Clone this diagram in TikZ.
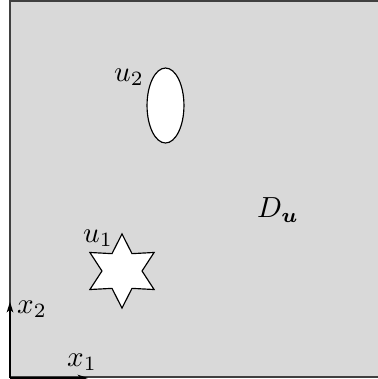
\documentclass[tikz,border=0pt]{standalone}
\usepackage{amsmath,bm}
\usetikzlibrary{arrows.meta,shapes.geometric}
\tikzset{
  region/.style={fill=black!15, draw=black!75, line width=0.6pt},
  hole/.style={draw, fill=white, line width=0.4pt, inner sep=0pt},
  axisarrow/.style={-{Stealth[length=3.6pt,width=2.3pt,inset=1pt]}, line width=0.4pt},
  lbl/.style={inner sep=0pt}
}
\begin{document}
\begin{tikzpicture}[x=0.344pt, y=-0.344pt]
  \useasboundingbox (0,0) rectangle (378,379);
  \clip (0,0) rectangle (378,379);
  % domain
  \draw[region] (10,1) rectangle (400,377);
  % obstacles
  \node[hole, ellipse, minimum width=12.7pt, minimum height=25.8pt] (ellip) at (165.5,105.5) {};
  \node[hole, star, star points=6, star point ratio=1.85, minimum size=25.5pt] (hexstar) at (122,271) {};
  \node[lbl] (lu2) at (129,77) {$u_2$};
  \node[lbl] (lu1) at (98,238) {$u_1$};
  \node[lbl] (ldom) at (278,210) {$D_{\bm u}$};
  % axes
  \coordinate (orig) at (10,378);
  \coordinate (e2) at (10,302);
  \coordinate (e1) at (88,378);
  \draw[axisarrow] (orig) -- (e2);
  \draw[axisarrow] (orig) -- (e1);
  \node[lbl] (lx2) at (32,309) {$x_2$};
  \node[lbl] (lx1) at (82,362) {$x_1$};
\end{tikzpicture}
\end{document}
